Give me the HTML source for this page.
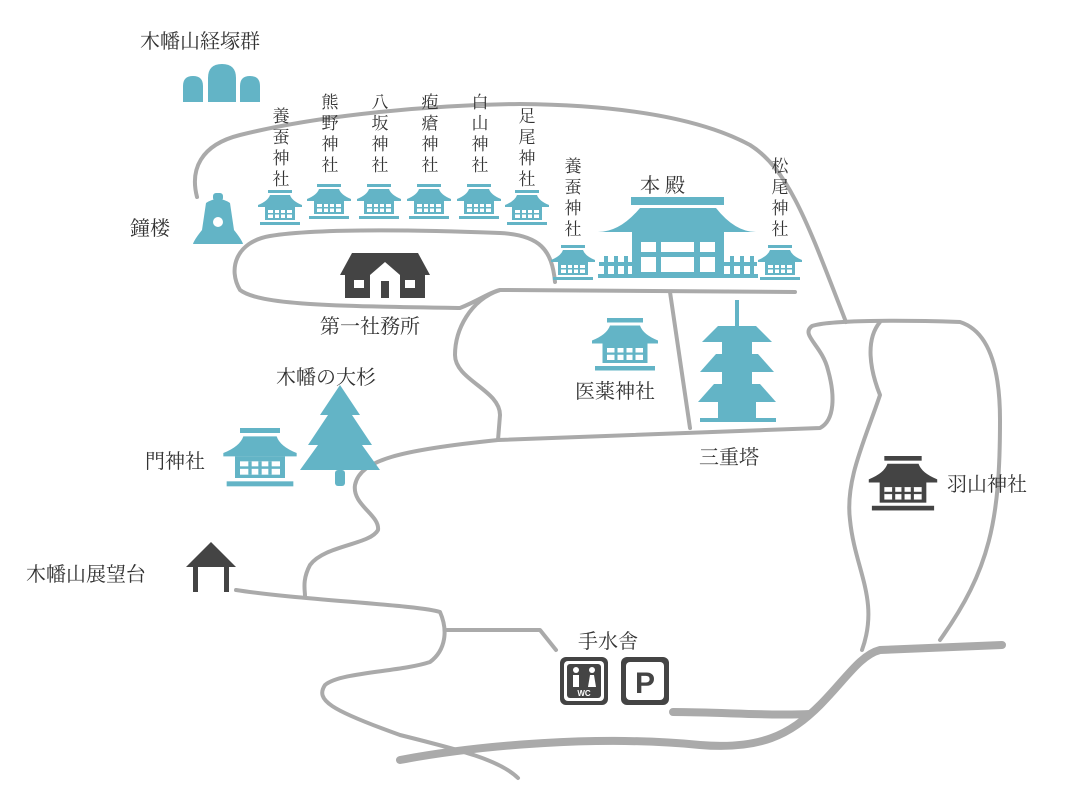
<!DOCTYPE html>
<html><head><meta charset="utf-8"><style>
html,body{margin:0;padding:0;background:#fff;}
svg{display:block}
text{font-family:"Liberation Serif","Noto Serif CJK JP",serif;fill:#333;}
</style></head><body>
<svg width="1080" height="803" viewBox="0 0 1080 803" xmlns="http://www.w3.org/2000/svg">
<defs>
<symbol id="sh" viewBox="0 0 44 36">
<rect x="10" y="0" width="24" height="3"/>
<path d="M12 5 H32 Q34 11 44 15 V17 H0 V15 Q10 11 12 5Z"/>
<rect x="7" y="17" width="30" height="13"/>
<rect x="10" y="20" width="24" height="8" fill="#fff"/>
<rect x="15" y="20" width="2" height="8"/><rect x="21" y="20" width="2" height="8"/><rect x="27" y="20" width="2" height="8"/>
<rect x="10" y="23" width="24" height="1.5"/>
<rect x="2" y="32" width="40" height="3"/>
</symbol>
</defs>
<g fill="none" stroke="#aaa" stroke-width="4" stroke-linecap="round" stroke-linejoin="round">
<path d="M197 197 C190 170 200 145 240 135 C320 115 430 105 520 104 C620 105 700 118 750 145 C790 170 810 230 846 322"/>
<path d="M555 282 C552 250 540 235 500 233 C420 230 320 228 270 236 C235 242 228 270 240 290 C260 305 330 306 460 308 C480 300 490 292 500 290 L795 292"/>
<path d="M500 290 C470 300 455 330 455 355 C455 380 500 390 500 415 L498 440"/>
<path d="M670 292 L690 428"/>
<path d="M498 440 C400 450 360 460 355 485 C352 505 380 515 378 530 C370 545 325 545 310 565 C302 580 305 590 305 596"/>
<path d="M498 440 L820 428 C835 420 835 395 828 370 C822 345 800 335 812 326 C830 320 900 320 960 322 C985 330 1000 360 1000 420 C1000 520 990 570 940 640"/>
<path d="M880 322 C865 340 870 370 880 395 C865 440 845 480 850 520 C855 570 880 600 862 650"/>
<path d="M236 590 C300 600 420 605 440 612 C448 630 446 650 430 662 C400 672 340 672 325 685 C315 700 330 710 400 735 C460 750 500 760 518 778"/>
<path d="M447 630 L540 630 L556 650"/>
</g>
<g fill="none" stroke="#aaa" stroke-width="8" stroke-linecap="round" stroke-linejoin="round">
<path d="M400 760 C480 745 600 735 700 745 C760 750 790 735 820 705 C845 680 860 655 880 650 L1002 645"/>
<path d="M673 712 C720 712 770 716 810 714"/>
</g>
<g fill="#63b4c6">
<use href="#sh" x="258" y="190" width="44" height="36"/>
<use href="#sh" x="307" y="184" width="44" height="36"/>
<use href="#sh" x="357" y="184" width="44" height="36"/>
<use href="#sh" x="407" y="184" width="44" height="36"/>
<use href="#sh" x="457" y="184" width="44" height="36"/>
<use href="#sh" x="505" y="190" width="44" height="36"/>
<use href="#sh" x="551" y="245" width="44" height="36"/>
<use href="#sh" x="758" y="245" width="44" height="36"/>
<use href="#sh" x="592" y="318" width="66" height="54"/>
<use href="#sh" x="222" y="428" width="76" height="60"/>
<!-- honden -->
<rect x="631" y="197" width="93" height="8"/>
<path d="M640 208 H716 Q735 232 756 232 H598 Q620 232 640 208Z"/>
<rect x="632" y="232" width="92" height="46"/>
<rect x="641" y="242" width="15" height="10" fill="#fff"/><rect x="661" y="242" width="33" height="10" fill="#fff"/><rect x="700" y="242" width="15" height="10" fill="#fff"/>
<rect x="641" y="257" width="15" height="15" fill="#fff"/><rect x="661" y="257" width="33" height="15" fill="#fff"/><rect x="700" y="257" width="15" height="15" fill="#fff"/>
<rect x="599" y="262" width="35" height="4"/><rect x="722" y="262" width="35" height="4"/>
<rect x="604" y="256" width="4" height="20"/><rect x="614" y="256" width="4" height="20"/><rect x="624" y="256" width="4" height="20"/>
<rect x="730" y="256" width="4" height="20"/><rect x="740" y="256" width="4" height="20"/><rect x="750" y="256" width="4" height="20"/>
<rect x="598" y="274" width="160" height="4"/>
<!-- pagoda -->
<rect x="735" y="300" width="4" height="26"/>
<path d="M718 326 H756 L772 342 H702Z"/><rect x="722" y="342" width="30" height="12"/>
<path d="M716 354 H758 L774 372 H700Z"/><rect x="722" y="372" width="30" height="12"/>
<path d="M714 384 H760 L776 402 H698Z"/><rect x="718" y="402" width="38" height="16"/>
<rect x="700" y="418" width="76" height="4"/>
<!-- tree -->
<path d="M340 385 L360 415 H352 L372 445 H362 L380 470 H300 L318 445 H308 L328 415 H320Z"/>
<rect x="335" y="470" width="10" height="16" rx="3"/>
<!-- bell -->
<rect x="213" y="193" width="10" height="8" rx="3"/>
<path d="M206 203 Q218 195 230 203 L234 230 Q242 240 243 244 H193 Q194 240 202 230Z"/>
<circle cx="218" cy="222" r="5" fill="#fff"/>
<!-- mounds -->
<path d="M183 102 V86 Q183 76 193 76 Q203 76 203 86 V102Z"/>
<path d="M208 102 V78 Q208 64 222 64 Q236 64 236 78 V102Z"/>
<path d="M240 102 V86 Q240 76 250 76 Q260 76 260 86 V102Z"/>
</g>
<g fill="#444">
<use href="#sh" x="868" y="456" width="70" height="56"/>
<!-- office -->
<path d="M352 253 H418 L430 275 H340Z"/>
<rect x="345" y="275" width="80" height="23"/>
<path d="M370 275 L385 262 L400 275 V298 H370Z" fill="#fff"/>
<rect x="381" y="281" width="8" height="17"/>
<rect x="354" y="280" width="10" height="8" fill="#fff"/><rect x="405" y="280" width="10" height="8" fill="#fff"/>
<!-- viewpoint -->
<path d="M211 542 L236 567 H186Z"/>
<rect x="193" y="567" width="5" height="25"/><rect x="224" y="567" width="5" height="25"/>
<!-- WC -->
<rect x="560" y="657" width="48" height="48" rx="6"/>
<rect x="564" y="661" width="40" height="40" rx="4" fill="#fff"/>
<rect x="567" y="664" width="34" height="34" rx="3"/>
<circle cx="576" cy="670" r="3" fill="#fff"/><rect x="573" y="675" width="6" height="12" fill="#fff"/>
<circle cx="592" cy="670" r="3" fill="#fff"/><path d="M588 687 L590 675 H594 L596 687Z" fill="#fff"/>
<text x="584" y="696" font-size="8" text-anchor="middle" style="fill:#fff;font-family:'Liberation Sans',sans-serif;font-weight:bold">WC</text>
<!-- P -->
<rect x="621" y="657" width="48" height="48" rx="6"/>
<rect x="626" y="662" width="38" height="38" rx="4" fill="#fff"/>
<text x="645" y="693" font-size="30" text-anchor="middle" style="fill:#444;font-family:'Liberation Sans',sans-serif;font-weight:bold">P</text>
</g>
<g font-size="20">
<text x="140" y="48">木幡山経塚群</text>
<text x="130" y="235">鐘楼</text>
<text x="320" y="333">第一社務所</text>
<text x="276" y="384">木幡の大杉</text>
<text x="145" y="468">門神社</text>
<text x="575" y="398">医薬神社</text>
<text x="699" y="464">三重塔</text>
<text x="947" y="491">羽山神社</text>
<text x="26" y="581">木幡山展望台</text>
<text x="578" y="648">手水舎</text>
<text x="640" y="192">本 殿</text>
</g>
<g font-size="17" text-anchor="middle">
<text x="281" y="122">養</text><text x="281" y="143">蚕</text><text x="281" y="164">神</text><text x="281" y="185">社</text>
<text x="330" y="108">熊</text><text x="330" y="129">野</text><text x="330" y="150">神</text><text x="330" y="171">社</text>
<text x="380" y="108">八</text><text x="380" y="129">坂</text><text x="380" y="150">神</text><text x="380" y="171">社</text>
<text x="430" y="108">疱</text><text x="430" y="129">瘡</text><text x="430" y="150">神</text><text x="430" y="171">社</text>
<text x="480" y="108">白</text><text x="480" y="129">山</text><text x="480" y="150">神</text><text x="480" y="171">社</text>
<text x="527" y="122">足</text><text x="527" y="143">尾</text><text x="527" y="164">神</text><text x="527" y="185">社</text>
<text x="573" y="172">養</text><text x="573" y="193">蚕</text><text x="573" y="214">神</text><text x="573" y="235">社</text>
<text x="780" y="172">松</text><text x="780" y="193">尾</text><text x="780" y="214">神</text><text x="780" y="235">社</text>
</g>
</svg>
</body></html>
